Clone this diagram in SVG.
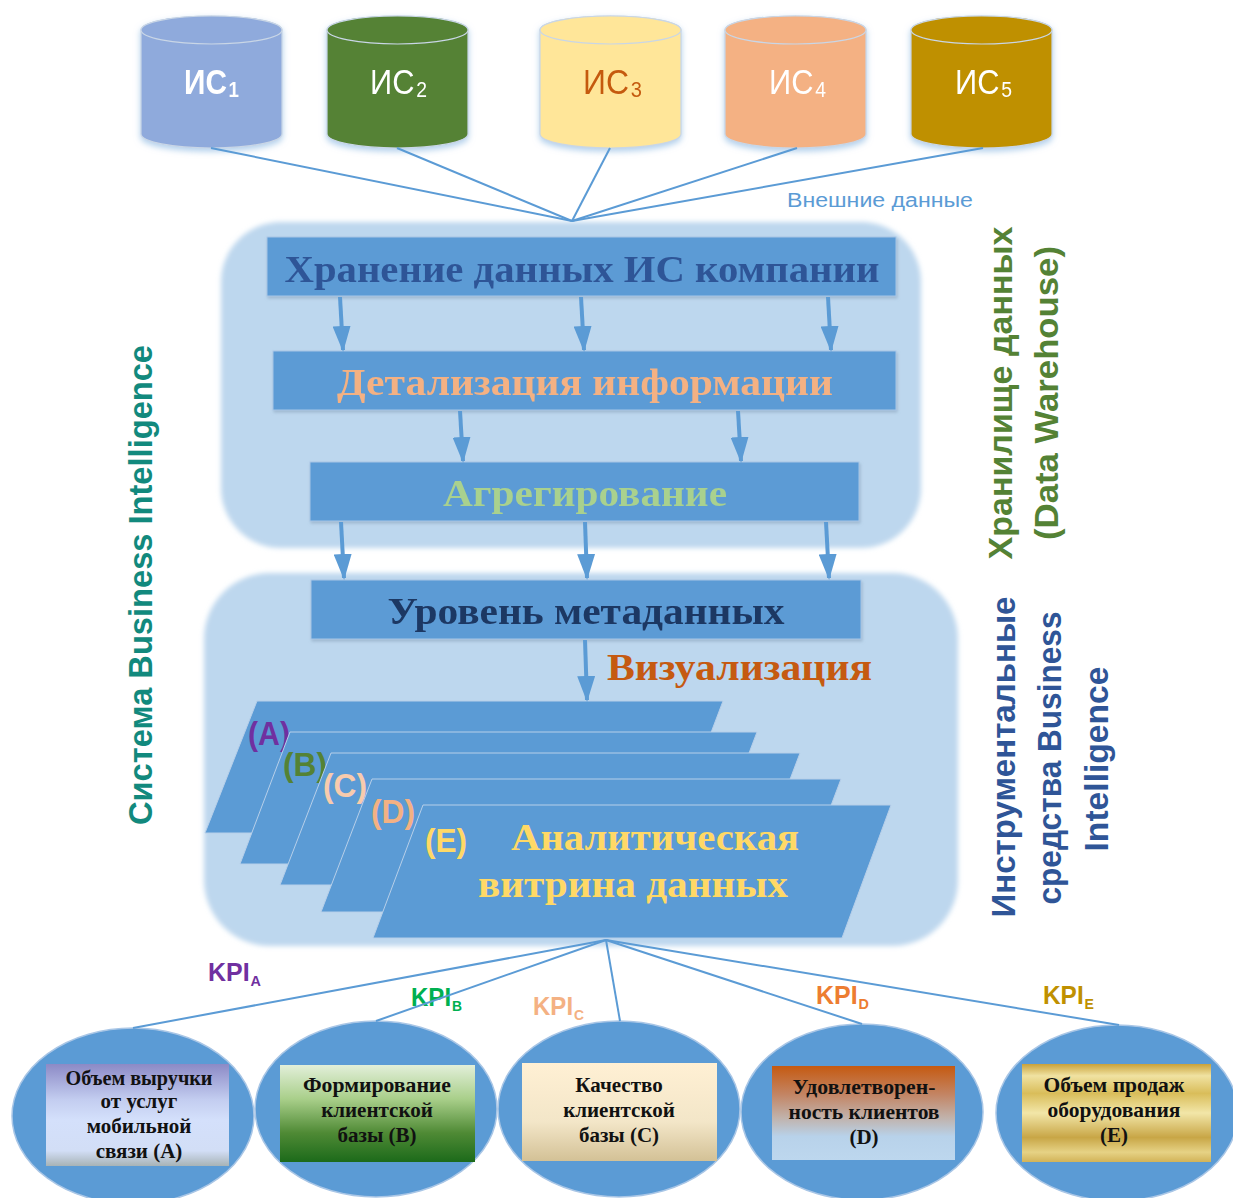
<svg xmlns="http://www.w3.org/2000/svg" width="1233" height="1198" viewBox="0 0 1233 1198">
<defs>
<style>
.cyl{stroke:#c9d6e6;stroke-width:1.2}
.ist{font-family:"Liberation Sans",Arial,sans-serif;font-size:35px}
.iss{font-size:22px}
.panel{fill:#bdd7ee}
.box{fill:#5b9bd5;stroke:#a9c6e6;stroke-width:1}
.srf{font-family:"Liberation Serif","Times New Roman",serif;font-weight:bold;font-size:38px;text-anchor:middle}
.par{fill:#5b9bd5;stroke:#b7cfe9;stroke-width:1}
.lbl{font-family:"Liberation Sans",Arial,sans-serif;font-weight:bold;font-size:34px}
.conn{stroke:#5b9bd5;stroke-width:2;fill:none}
.arr{stroke:#5b9bd5;stroke-width:4;fill:none;marker-end:url(#ah)}
.ell{fill:#5b9bd5;stroke:#a9c6e6;stroke-width:1.5}
.bt{font-family:"Liberation Serif","Times New Roman",serif;font-weight:bold;font-size:21px;text-anchor:middle;fill:#111}
.kpi{font-family:"Liberation Sans",Arial,sans-serif;font-weight:bold;font-size:26px}
.kps{font-size:15px}
.vt{font-family:"Liberation Sans",Arial,sans-serif;font-weight:bold;font-size:33px;text-anchor:middle}
</style>
<marker id="ah" markerUnits="userSpaceOnUse" markerWidth="26" markerHeight="18" refX="24" refY="9" orient="auto">
<path d="M0,0 L26,9 L0,18 Z" fill="#5b9bd5"/>
</marker>
<filter id="soft" x="-5%" y="-5%" width="110%" height="110%"><feGaussianBlur stdDeviation="2.5"/></filter>
<filter id="glow" x="-10%" y="-10%" width="120%" height="130%"><feDropShadow dx="0" dy="3" stdDeviation="3" flood-color="#9dc3e6" flood-opacity="0.8"/></filter>
<filter id="sh" x="-5%" y="-10%" width="110%" height="130%"><feDropShadow dx="1" dy="2" stdDeviation="1.5" flood-color="#7f97b2" flood-opacity="0.5"/></filter>
<linearGradient id="gA" x1="0" y1="0" x2="0" y2="1">
<stop offset="0" stop-color="#8c8ac6"/><stop offset="0.35" stop-color="#c3cdf0"/><stop offset="0.55" stop-color="#d4e0fb"/><stop offset="0.85" stop-color="#d2def6"/><stop offset="1" stop-color="#a7b3b6"/>
</linearGradient>
<linearGradient id="gB" x1="0" y1="0" x2="0" y2="1">
<stop offset="0" stop-color="#e2efd9"/><stop offset="0.35" stop-color="#a9cf8a"/><stop offset="0.7" stop-color="#4f8a35"/><stop offset="1" stop-color="#1c6a1a"/>
</linearGradient>
<linearGradient id="gC" x1="0" y1="0" x2="0" y2="1">
<stop offset="0" stop-color="#fff0d4"/><stop offset="0.6" stop-color="#f3e6c8"/><stop offset="1" stop-color="#d3c196"/>
</linearGradient>
<linearGradient id="gD" x1="0" y1="0" x2="0" y2="1">
<stop offset="0" stop-color="#c55a11"/><stop offset="0.3" stop-color="#c38463"/><stop offset="0.55" stop-color="#c1b2ab"/><stop offset="0.75" stop-color="#b8d2ea"/><stop offset="1" stop-color="#bdd7ee"/>
</linearGradient>
<linearGradient id="gE" x1="0" y1="0" x2="0" y2="1">
<stop offset="0" stop-color="#c9a23a"/><stop offset="0.12" stop-color="#f0e2a2"/><stop offset="0.3" stop-color="#d9bd5a"/><stop offset="0.5" stop-color="#f2e6a8"/><stop offset="0.75" stop-color="#c8a646"/><stop offset="0.9" stop-color="#e6d285"/><stop offset="1" stop-color="#d2b358"/>
</linearGradient>
</defs>

<rect width="1233" height="1198" fill="#ffffff"/>

<!-- Source systems -->
<g id="is1" filter="url(#glow)">
<path class="cyl" fill="#8faadc" d="M141,30 A70.5,14 0 0 1 282,30 L282,134 A70.5,14 0 0 1 141,134 Z"/>
<ellipse class="cyl" cx="211.5" cy="30" rx="70.5" ry="14" fill="#8faadc"/>
<text class="ist" x="184" y="94" fill="#ffffff" font-weight="bold" textLength="55" lengthAdjust="spacingAndGlyphs">ИС<tspan class="iss" dx="2" dy="3">1</tspan></text>
</g>
<g id="is2" filter="url(#glow)">
<path class="cyl" fill="#548235" d="M327,30 A70.5,14 0 0 1 468,30 L468,134 A70.5,14 0 0 1 327,134 Z"/>
<ellipse class="cyl" cx="397.5" cy="30" rx="70.5" ry="14" fill="#548235"/>
<text class="ist" x="370" y="94" fill="#ffffff" textLength="57" lengthAdjust="spacingAndGlyphs">ИС<tspan class="iss" dx="2" dy="3">2</tspan></text>
</g>
<g id="is3" filter="url(#glow)">
<path class="cyl" fill="#ffe699" d="M540,30 A70.5,14 0 0 1 681,30 L681,134 A70.5,14 0 0 1 540,134 Z"/>
<ellipse class="cyl" cx="610.5" cy="30" rx="70.5" ry="14" fill="#ffe699"/>
<text class="ist" x="583" y="94" fill="#c55a11" textLength="59" lengthAdjust="spacingAndGlyphs">ИС<tspan class="iss" dx="2" dy="3">3</tspan></text>
</g>
<g id="is4" filter="url(#glow)">
<path class="cyl" fill="#f4b183" d="M725,30 A70.5,14 0 0 1 866,30 L866,134 A70.5,14 0 0 1 725,134 Z"/>
<ellipse class="cyl" cx="795.5" cy="30" rx="70.5" ry="14" fill="#f4b183"/>
<text class="ist" x="769" y="94" fill="#ffffff" textLength="57" lengthAdjust="spacingAndGlyphs">ИС<tspan class="iss" dx="2" dy="3">4</tspan></text>
</g>
<g id="is5" filter="url(#glow)">
<path class="cyl" fill="#bf9000" d="M911,30 A70.5,14 0 0 1 1052,30 L1052,134 A70.5,14 0 0 1 911,134 Z"/>
<ellipse class="cyl" cx="981.5" cy="30" rx="70.5" ry="14" fill="#bf9000"/>
<text class="ist" x="955" y="94" fill="#ffffff" textLength="57" lengthAdjust="spacingAndGlyphs">ИС<tspan class="iss" dx="2" dy="3">5</tspan></text>
</g>

<text id="external" x="787" y="207" font-family="Liberation Sans, Arial, sans-serif" font-size="20" fill="#5b9bd5" textLength="186" lengthAdjust="spacingAndGlyphs">Внешние данные</text>

<!-- Panels -->
<g id="dw-panel"><rect class="panel" x="221" y="222" width="700" height="326" rx="60" filter="url(#soft)"/></g>
<g id="bi-panel"><rect class="panel" x="204" y="573" width="754" height="373" rx="66" filter="url(#soft)"/></g>

<!-- Boxes -->
<g id="storage" filter="url(#sh)">
<rect class="box" x="267" y="237" width="629" height="59"/>
<text class="srf" x="582" y="282" fill="#2f5597" textLength="595" lengthAdjust="spacingAndGlyphs">Хранение данных ИС компании</text>
</g>
<g id="detail" filter="url(#sh)">
<rect class="box" x="273" y="351" width="623" height="59"/>
<text class="srf" x="585" y="395" fill="#f4b183" textLength="496" lengthAdjust="spacingAndGlyphs">Детализация информации</text>
</g>
<g id="aggregate" filter="url(#sh)">
<rect class="box" x="310" y="462" width="549" height="59"/>
<text class="srf" x="585" y="506" fill="#a9d18e" textLength="284" lengthAdjust="spacingAndGlyphs">Агрегирование</text>
</g>
<g id="metadata" filter="url(#sh)">
<rect class="box" x="311" y="580" width="550" height="59"/>
<text class="srf" x="586" y="624" fill="#1f3864" textLength="397" lengthAdjust="spacingAndGlyphs">Уровень метаданных</text>
</g>
<text id="visualization" x="607" y="680" font-family="Liberation Serif, Times New Roman, serif" font-weight="bold" font-size="37" fill="#c55a11" textLength="265" lengthAdjust="spacingAndGlyphs">Визуализация</text>

<!-- Data marts -->
<g id="mart-a">
<polygon class="par" points="257,701 723,701 673,833 205,833"/>
<text class="lbl" x="248" y="745" fill="#7030a0" textLength="42" lengthAdjust="spacingAndGlyphs">(A)</text>
</g>
<g id="mart-b">
<polygon class="par" points="290,732 757,732 707,864 240,864"/>
<text class="lbl" x="283" y="776" fill="#548235" textLength="44" lengthAdjust="spacingAndGlyphs">(B)</text>
</g>
<g id="mart-c">
<polygon class="par" points="331,753 800,753 750,885 280,885"/>
<text class="lbl" x="323" y="797" fill="#f8cbad" textLength="44" lengthAdjust="spacingAndGlyphs">(C)</text>
</g>
<g id="mart-d">
<polygon class="par" points="372,779 841,779 791,912 321,912"/>
<text class="lbl" x="371" y="823" fill="#f4b183" textLength="44" lengthAdjust="spacingAndGlyphs">(D)</text>
</g>
<g id="mart-e">
<polygon class="par" points="423,805 891,805 842,938 373,938"/>
<text class="lbl" x="425" y="852" fill="#ffd966" textLength="42" lengthAdjust="spacingAndGlyphs">(E)</text>
<text class="srf" x="655" y="850" font-size="36" fill="#ffd966" textLength="288" lengthAdjust="spacingAndGlyphs">Аналитическая</text>
<text class="srf" x="633" y="897" font-size="36" fill="#ffd966" textLength="310" lengthAdjust="spacingAndGlyphs">витрина данных</text>
</g>

<!-- Vertical labels -->
<text id="bi-system" class="vt" transform="translate(152,585) rotate(-90)" fill="#12897d" font-size="34" textLength="480" lengthAdjust="spacingAndGlyphs">Система Business Intelligence</text>
<g id="dw-label">
<text class="vt" transform="translate(1012,393) rotate(-90)" fill="#548235" textLength="333" lengthAdjust="spacingAndGlyphs">Хранилище данных</text>
<text class="vt" transform="translate(1058,393) rotate(-90)" fill="#548235" textLength="294" lengthAdjust="spacingAndGlyphs">(Data Warehouse)</text>
</g>
<g id="bi-tools-label">
<text class="vt" transform="translate(1015,757) rotate(-90)" fill="#2f5597" textLength="321" lengthAdjust="spacingAndGlyphs">Инструментальные</text>
<text class="vt" transform="translate(1061,758) rotate(-90)" fill="#2f5597" textLength="293" lengthAdjust="spacingAndGlyphs">средства Business</text>
<text class="vt" transform="translate(1108,759) rotate(-90)" fill="#2f5597" textLength="185" lengthAdjust="spacingAndGlyphs">Intelligence</text>
</g>

<!-- KPI ellipses -->
<g id="kpi-a">
<ellipse class="ell" cx="133" cy="1116" rx="121" ry="88"/>
<rect x="46" y="1064" width="183" height="102" fill="url(#gA)"/>
<text class="bt" x="139" y="1085" textLength="147" lengthAdjust="spacingAndGlyphs">Объем выручки</text>
<text class="bt" x="139" y="1108">от услуг</text>
<text class="bt" x="139" y="1133">мобильной</text>
<text class="bt" x="139" y="1158">связи (A)</text>
</g>
<g id="kpi-b">
<ellipse class="ell" cx="376" cy="1109" rx="121" ry="88"/>
<rect x="280" y="1065" width="195" height="97" fill="url(#gB)"/>
<text class="bt" x="377" y="1092" textLength="148" lengthAdjust="spacingAndGlyphs">Формирование</text>
<text class="bt" x="377" y="1117">клиентской</text>
<text class="bt" x="377" y="1142">базы (B)</text>
</g>
<g id="kpi-c">
<ellipse class="ell" cx="619" cy="1109" rx="121" ry="88"/>
<rect x="522" y="1063" width="195" height="98" fill="url(#gC)"/>
<text class="bt" x="619" y="1092">Качество</text>
<text class="bt" x="619" y="1117">клиентской</text>
<text class="bt" x="619" y="1142">базы (C)</text>
</g>
<g id="kpi-d">
<ellipse class="ell" cx="862" cy="1112" rx="121" ry="88"/>
<rect x="772" y="1066" width="183" height="94" fill="url(#gD)"/>
<text class="bt" x="864" y="1094" textLength="143" lengthAdjust="spacingAndGlyphs">Удовлетворен-</text>
<text class="bt" x="864" y="1119" textLength="151" lengthAdjust="spacingAndGlyphs">ность клиентов</text>
<text class="bt" x="864" y="1144">(D)</text>
</g>
<g id="kpi-e">
<ellipse class="ell" cx="1117" cy="1113" rx="121" ry="88"/>
<rect x="1022" y="1064" width="189" height="98" fill="url(#gE)"/>
<text class="bt" x="1114" y="1092" textLength="141" lengthAdjust="spacingAndGlyphs">Объем продаж</text>
<text class="bt" x="1114" y="1117" textLength="133" lengthAdjust="spacingAndGlyphs">оборудования</text>
<text class="bt" x="1114" y="1142">(E)</text>
</g>

<!-- KPI labels -->
<g id="kpi-labels">
<text class="kpi" x="208" y="981" fill="#7030a0" textLength="53" lengthAdjust="spacingAndGlyphs">KPI<tspan class="kps" dx="1" dy="5">A</tspan></text>
<text class="kpi" x="411" y="1006" fill="#00b050" textLength="51" lengthAdjust="spacingAndGlyphs">KPI<tspan class="kps" dx="1" dy="5">B</tspan></text>
<text class="kpi" x="533" y="1015" fill="#f4b183" textLength="51" lengthAdjust="spacingAndGlyphs">KPI<tspan class="kps" dx="1" dy="5">C</tspan></text>
<text class="kpi" x="816" y="1004" fill="#ed7d31" textLength="53" lengthAdjust="spacingAndGlyphs">KPI<tspan class="kps" dx="1" dy="5">D</tspan></text>
<text class="kpi" x="1043" y="1004" fill="#bf9000" textLength="51" lengthAdjust="spacingAndGlyphs">KPI<tspan class="kps" dx="1" dy="5">E</tspan></text>
</g>

<!-- Connectors -->
<g id="connectors">
<line class="conn" x1="211" y1="148" x2="572" y2="221"/>
<line class="conn" x1="397" y1="148" x2="572" y2="221"/>
<line class="conn" x1="610" y1="148" x2="572" y2="221"/>
<line class="conn" x1="797" y1="148" x2="572" y2="221"/>
<line class="conn" x1="983" y1="148" x2="572" y2="221"/>
<line class="arr" x1="340" y1="297" x2="343" y2="350"/>
<line class="arr" x1="581" y1="297" x2="584" y2="350"/>
<line class="arr" x1="828" y1="297" x2="831" y2="350"/>
<line class="arr" x1="460" y1="411" x2="463" y2="461"/>
<line class="arr" x1="738" y1="411" x2="741" y2="461"/>
<line class="arr" x1="341" y1="522" x2="344" y2="578"/>
<line class="arr" x1="585" y1="522" x2="587" y2="578"/>
<line class="arr" x1="826" y1="522" x2="829" y2="578"/>
<line class="arr" x1="585" y1="640" x2="587" y2="700"/>
<line class="conn" x1="606" y1="940" x2="133" y2="1028"/>
<line class="conn" x1="606" y1="940" x2="376" y2="1021"/>
<line class="conn" x1="606" y1="940" x2="620" y2="1021"/>
<line class="conn" x1="606" y1="940" x2="862" y2="1024"/>
<line class="conn" x1="606" y1="940" x2="1119" y2="1025"/>
</g>
</svg>
